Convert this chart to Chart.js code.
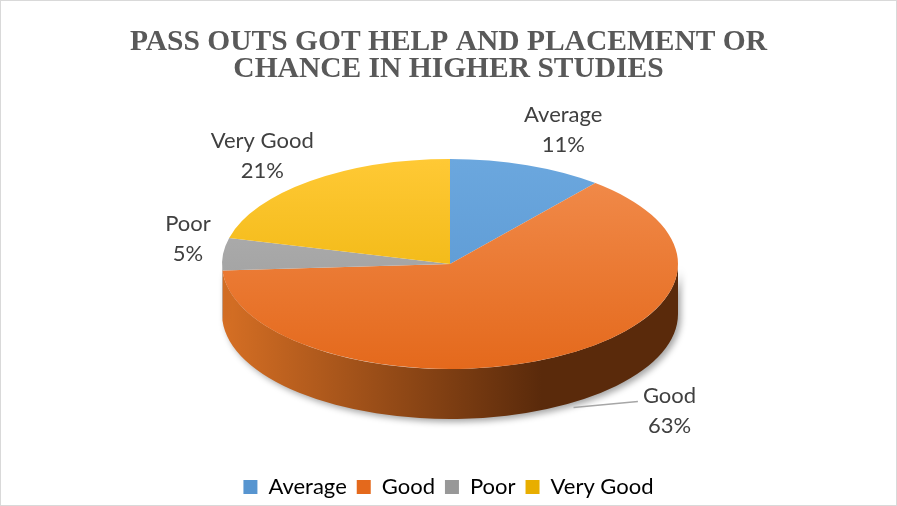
<!DOCTYPE html>
<html lang="en">
<head>
  <meta charset="UTF-8">
  <title>Pass outs - help and placement</title>
  <script src="https://cdn.jsdelivr.net/npm/chart.js"></script>
  <style>
    html, body { margin: 0; padding: 0; background: #fff; }
    #wrap {
      width: 897px;
      height: 506px;
      box-sizing: border-box;
      border: 1px solid #d9d9d9;
    }
    canvas { display: block; }
  </style>
</head>
<body>
  <div id="wrap"><canvas id="pie"></canvas></div>
  <script>
    const categories = ["Average", "Good", "Poor", "Very Good"];
    const shares = [11, 63, 5, 21];
    const titleLines = ["PASS OUTS GOT HELP AND PLACEMENT OR", "CHANCE IN HIGHER STUDIES"];

    // top face colours (light, dark) and side colours (light, dark)
    const topColors = [["#6ba7de", "#5795d0"], ["#f28d4e", "#e4691c"], ["#b4b4b4", "#989898"], ["#ffc935", "#e8ae00"]];
    const sideColors = [["#4f86ba", "#284d70"], ["#d66f24", "#5a2a0b"], ["#9a9a9a", "#5e5e5e"], ["#d9a300", "#7a5c00"]];
    // where each label sits relative to its slice's rim point
    const labelNudge = [[36, -35], [116, 3], [-35, -15], [-48, -25]];

    // the 3D look: ellipse centre and radii on the page, and the side depth
    const PX = 449, PY = 263, RX = 228, RY = 105, DEPTH = 50;
    const labelFont = '22px Lato, "Open Sans", sans-serif';

    const pie3d = {
      id: 'pie3d',
      beforeDatasetsDraw(chart) {
        const ctx = chart.ctx;
        const arcs = chart.getDatasetMeta(0).data;
        const first = arcs[0];
        const R = first.outerRadius;

        // sides of the front half
        ctx.save();
        ctx.shadowColor = 'rgba(0,0,0,0.35)';
        ctx.shadowBlur = 6;
        ctx.shadowOffsetX = 3;
        ctx.shadowOffsetY = 3;
        arcs.forEach((arc, i) => {
          const s = Math.max(arc.startAngle, 0);
          const e = Math.min(arc.endAngle, Math.PI);
          if (e <= s) return;
          const g = ctx.createLinearGradient(PX - RX, 0, PX + RX, 0);
          g.addColorStop(0, sideColors[i][0]);
          g.addColorStop(0.7, sideColors[i][1]);
          g.addColorStop(1, sideColors[i][1]);
          ctx.fillStyle = g;
          ctx.beginPath();
          ctx.ellipse(PX, PY, RX, RY, 0, s, e);
          ctx.ellipse(PX, PY + DEPTH, RX, RY, 0, e, s, true);
          ctx.closePath();
          ctx.fill();
        });
        ctx.restore();

        // squash the top face into the ellipse
        ctx.save();
        ctx.translate(PX, PY);
        ctx.scale(RX / R, RY / R);
        ctx.translate(-first.x, -first.y);
      },
      afterDatasetsDraw(chart) {
        const ctx = chart.ctx;
        ctx.restore();
        const arcs = chart.getDatasetMeta(0).data;
        const total = shares.reduce((a, b) => a + b, 0);

        ctx.save();
        ctx.font = labelFont;
        ctx.textAlign = 'center';
        ctx.textBaseline = 'middle';
        arcs.forEach((arc, i) => {
          const mid = (arc.startAngle + arc.endAngle) / 2;
          let ax = PX + RX * Math.cos(mid);
          let ay = PY + RY * Math.sin(mid);
          if (Math.sin(mid) > 0) ay += DEPTH;
          const lx = ax + labelNudge[i][0];
          const ly = ay + labelNudge[i][1];
          const pct = Math.round(shares[i] / total * 100) + '%';

          if (Math.hypot(labelNudge[i][0], labelNudge[i][1]) > 90) {
            const w = ctx.measureText(categories[i]).width;
            ctx.strokeStyle = '#a6a6a6';
            ctx.lineWidth = 1.5;
            ctx.beginPath();
            ctx.moveTo(ax + 20, ay);
            ctx.lineTo(lx - w / 2 - 5, ly - 9);
            ctx.stroke();
          }
          ctx.fillStyle = '#404040';
          ctx.fillText(categories[i], lx, ly - 15);
          ctx.fillText(pct, lx, ly + 15);
        });
        ctx.restore();
      }
    };

    function topGradient(context) {
      const i = context.dataIndex;
      const area = context.chart.chartArea;
      if (!area || i === undefined) return topColors[0][0];
      const g = context.chart.ctx.createLinearGradient(0, area.top, 0, area.bottom);
      g.addColorStop(0, topColors[i][0]);
      g.addColorStop(1, topColors[i][1]);
      return g;
    }

    new Chart(document.getElementById('pie'), {
      type: 'pie',
      data: {
        labels: categories,
        datasets: [{
          data: shares,
          backgroundColor: topGradient,
          borderWidth: 0,
          clip: false
        }]
      },
      options: {
        responsive: true,
        maintainAspectRatio: false,
        animation: false,
        events: [],
        layout: { padding: { bottom: -3 } },
        plugins: {
          title: {
            display: true,
            text: titleLines,
            color: '#595959',
            font: { family: '"Liberation Serif", "Times New Roman", serif', size: 29.5, weight: 'bold', lineHeight: 0.92 },
            padding: { top: 28, bottom: 10 }
          },
          legend: {
            position: 'bottom',
            labels: {
              color: '#595959',
              font: { family: 'Lato, "Open Sans", sans-serif', size: 22 },
              boxWidth: 14,
              boxHeight: 14,
              padding: 10,
              generateLabels(chart) {
                return categories.map((c, i) => ({
                  text: c,
                  fillStyle: topColors[i][1],
                  strokeStyle: topColors[i][1],
                  lineWidth: 0,
                  index: i
                }));
              }
            }
          },
          tooltip: { enabled: false }
        }
      },
      plugins: [pie3d]
    });
  </script>
</body>
</html>
